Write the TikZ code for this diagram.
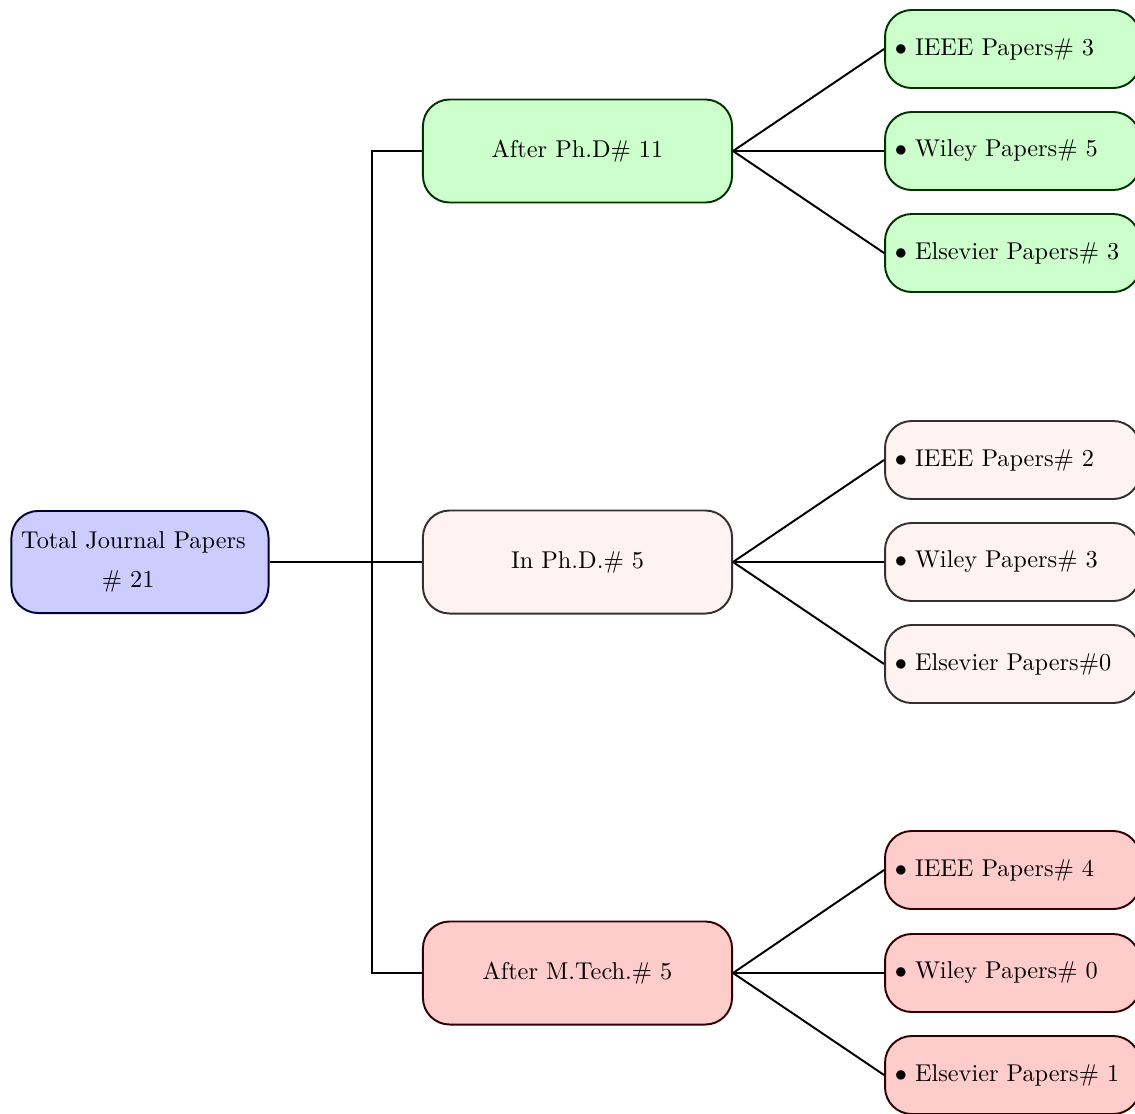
\documentclass[tikz,border=0pt]{standalone}
\usetikzlibrary{positioning}
\begin{document}
\begin{tikzpicture}[x=0.4115pt,y=-0.4115pt,
  rootbox/.style={draw=blue!20!black, fill=blue!20, thick, rounded corners=11pt,
     minimum width=105.8pt, minimum height=42pt, align=center, inner sep=0pt},
  midbox/.style={thick, rounded corners=11pt, minimum width=127.2pt, minimum height=42.4pt, inner sep=0pt},
  leafbox/.style={thick, rounded corners=11pt, minimum width=104.9pt, minimum height=32.1pt,
     text width=96.9pt, align=left, inner xsep=4pt, inner ysep=0pt},
  gcol/.style={draw=green!20!black, fill=green!20},
  pcol/.style={draw=red!5!white!20!black, fill=red!5},
  rcol/.style={draw=red!20!black, fill=red!20},
  conn/.style={thick}]
\useasboundingbox (0,0) rectangle (1135,1114);

\node[rootbox] (root) at (140,562) {Total Journal Papers\hspace*{5.4pt}\\[4pt] \# 21\hspace*{9.8pt}};

\node[midbox,gcol] (m1) at (577.5,151) {After Ph.D\# 11};
\node[midbox,pcol] (m2) at (577.5,562) {In Ph.D.\# 5};
\node[midbox,rcol] (m3) at (577.5,973) {After M.Tech.\# 5};

\node[leafbox,gcol] (l11) at (1012.5,49) {$\bullet$ IEEE Papers\# 3};
\node[leafbox,gcol] (l12) at (1012.5,151) {$\bullet$ Wiley Papers\# 5};
\node[leafbox,gcol] (l13) at (1012.5,253) {$\bullet$ Elsevier Papers\# 3};

\node[leafbox,pcol] (l21) at (1012.5,460) {$\bullet$ IEEE Papers\# 2};
\node[leafbox,pcol] (l22) at (1012.5,562) {$\bullet$ Wiley Papers\# 3};
\node[leafbox,pcol] (l23) at (1012.5,664) {$\bullet$ Elsevier Papers\#0};

\node[leafbox,rcol] (l31) at (1012.5,870) {$\bullet$ IEEE Papers\# 4};
\node[leafbox,rcol] (l32) at (1012.5,973) {$\bullet$ Wiley Papers\# 0};
\node[leafbox,rcol] (l33) at (1012.5,1075) {$\bullet$ Elsevier Papers\# 1};

\coordinate (fork) at (372,562);
\draw[conn] (root.east) -- (fork) |- (m1.west);
\draw[conn] (fork) -- (m2.west);
\draw[conn] (fork) |- (m3.west);

\foreach \m/\a/\b/\c in {m1/l11/l12/l13, m2/l21/l22/l23, m3/l31/l32/l33}{
  \draw[conn] (\m.east) -- (\a.west);
  \draw[conn] (\m.east) -- (\b.west);
  \draw[conn] (\m.east) -- (\c.west);
}
\end{tikzpicture}
\end{document}
